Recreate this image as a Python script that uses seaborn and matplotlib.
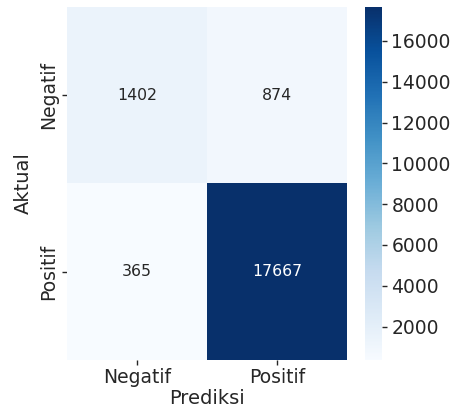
import numpy as np
import pandas as pd
import matplotlib
matplotlib.use("Agg")
import matplotlib.pyplot as plt
import seaborn as sns

labels = ["Negatif", "Positif"]
row_neg = [1402, 874]
row_pos = [365, 17667]
cbar_ticks = [2000, 4000, 6000, 8000, 10000, 12000, 14000, 16000]

sns.set_theme(style="ticks")
plt.rcParams['font.family'] = ['DejaVu Sans']

cm = pd.DataFrame([row_neg, row_pos], index=labels, columns=labels)

fig = plt.figure(figsize=(4.55, 4.09), dpi=100)
ax = fig.add_axes([0.147, 0.120, 0.616, 0.863])
cax = fig.add_axes([0.802, 0.120, 0.037, 0.863])

sns.heatmap(cm, annot=True, fmt="d", cmap="Blues", ax=ax, cbar_ax=cax,
            annot_kws={"size": 11.3}, cbar_kws={"ticks": cbar_ticks})

ax.set_xlabel("Prediksi", fontsize=14, color="#262626", labelpad=1)
ax.set_ylabel("Aktual", fontsize=14, color="#262626", labelpad=5)
ax.tick_params(axis="both", labelsize=13.5, length=3.5, width=1, colors="#262626", pad=2.5)
ax.tick_params(axis="y", rotation=90)
for t in ax.get_yticklabels():
    t.set_va("center")
cax.tick_params(labelsize=13.5, length=3.5, width=1, colors="#262626")

fig.savefig("out.png", dpi=100)
